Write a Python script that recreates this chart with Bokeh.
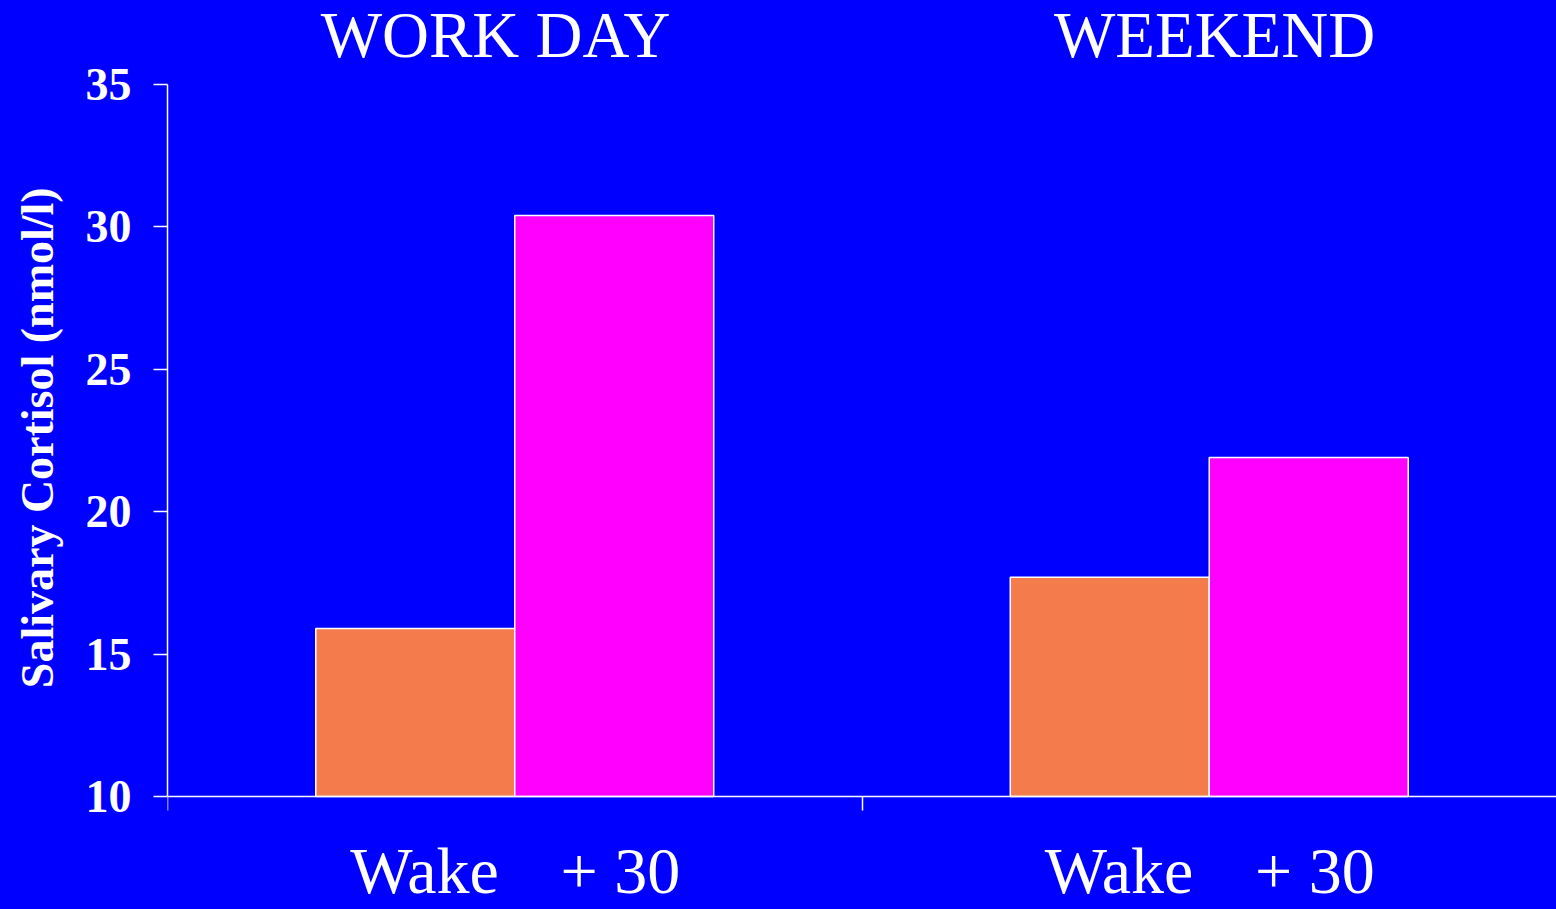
from bokeh.plotting import figure
from bokeh.models import Range1d, FixedTicker, Label
from bokeh.embed import file_html
from bokeh.resources import INLINE

groups = ["WORK DAY", "WEEKEND"]
times = ["Wake", "+ 30"]
wake_values = [15.9, 17.7]
plus30_values = [30.4, 21.9]
y_ticks = [10, 15, 20, 25, 30, 35]
y_title = "Salivary Cortisol (nmol/l)"

BLUE = "#0000FF"
ORANGE = "#F47C4C"
MAGENTA = "#FF00FF"
SERIF = "Liberation Serif"

W, H = 1556, 909
# value axis runs 10..35 between pixel rows 796 and 84; the frame is extended so the
# titles and the bar labels can sit inside it
PX = (796 - 84) / (35 - 10)
y_lo = 10 - (H - 796) / PX
y_hi = 35 + 84 / PX

p = figure(width=W, height=H, output_backend="svg", toolbar_location=None,
           x_range=Range1d(0, 2), y_range=Range1d(y_lo, y_hi),
           min_border_left=167, min_border_right=0, min_border_top=0, min_border_bottom=0)
p.background_fill_color = BLUE
p.border_fill_color = BLUE
p.outline_line_color = None
p.grid.visible = False

centers = [i + 0.5 for i in range(len(groups))]
bw = 0.2865
p.vbar(x=[c - bw / 2 for c in centers], top=wake_values, bottom=10, width=bw,
       fill_color=ORANGE, line_color="white", line_width=1.5)
p.vbar(x=[c + bw / 2 for c in centers], top=plus30_values, bottom=10, width=bw,
       fill_color=MAGENTA, line_color="white", line_width=1.5)

# y axis
ya = p.yaxis[0]
ya.bounds = (10, 35)
ya.ticker = FixedTicker(ticks=y_ticks)
ya.axis_line_color = "white"
ya.axis_line_width = 1.5
ya.major_tick_line_color = "white"
ya.major_tick_line_width = 1.5
ya.major_tick_out = 14
ya.major_tick_in = 0
ya.minor_tick_line_color = None
ya.major_label_text_color = "white"
ya.major_label_text_font = SERIF
ya.major_label_text_font_style = "bold"
ya.major_label_text_font_size = "46px"
ya.major_label_standoff = 22
# leading no-break spaces move the centred title up to the middle of the 10..35 span
ya.axis_label = "\u00a0\u00a0\u00a0" + y_title
ya.axis_label_text_color = "white"
ya.axis_label_text_font = SERIF
ya.axis_label_text_font_style = "bold"
ya.axis_label_text_font_size = "46px"
ya.axis_label_standoff = 20

# x axis at the value 10, with ticks separating the groups
xa = p.xaxis[0]
xa.fixed_location = 10
xa.ticker = FixedTicker(ticks=[0, 1])
xa.major_label_overrides = {0: "", 1: ""}
xa.major_label_text_font_size = "0px"
xa.axis_line_color = "white"
xa.axis_line_width = 1.5
xa.major_tick_line_color = "white"
xa.major_tick_line_width = 1.5
xa.major_tick_out = 14
xa.major_tick_in = 0
xa.minor_tick_line_color = None

SHIFT = 25  # label box offset observed for alphabetic baseline

# group titles on top
title_pos = [0.4723, 1.5076]
for x, g in zip(title_pos, groups):
    p.add_layout(Label(x=x, y=35 + (84 - 59 + SHIFT) / PX, text=g, text_align="center",
                       text_baseline="alphabetic", text_color="white",
                       text_font=SERIF, text_font_size="65px"))

# bar labels below the axis
offsets = [-0.13, 0.152]
for c in centers:
    for off, t in zip(offsets, times):
        p.add_layout(Label(x=c + off, y=10 - (895 - SHIFT - 796) / PX, text=t, text_align="center",
                           text_baseline="alphabetic", text_color="white",
                           text_font=SERIF, text_font_size="66px"))

html = file_html(p, INLINE)
html = html.replace("</head>", "<style>html, body { background: #0000FF; }</style></head>", 1)
open("out.html", "w").write(html)
